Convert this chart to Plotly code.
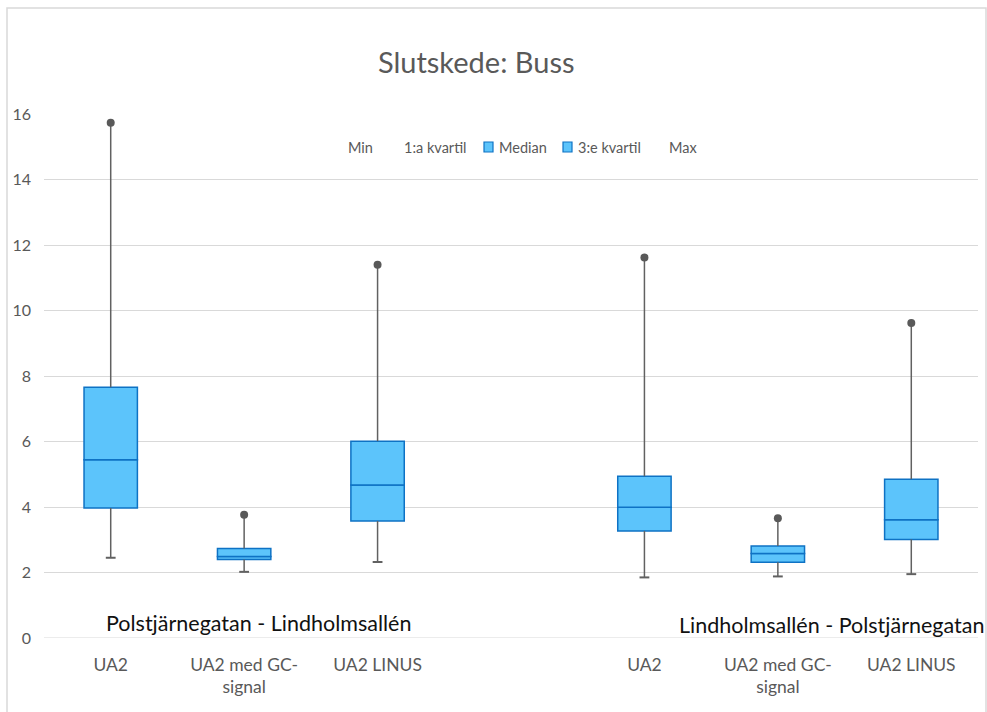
import plotly.graph_objects as go

# Category slots (the empty slot separates the two travel directions)
categories = ["UA2", "UA2 med GC-<br>signal", "UA2 LINUS", "", "UA2", "UA2 med GC-<br>signal", "UA2 LINUS"]
positions = [0, 1, 2, 4, 5, 6]

min_vals = [2.45, 2.02, 2.32, 1.85, 1.88, 1.95]
q1_vals = [3.97, 2.40, 3.57, 3.27, 2.31, 3.01]
median_vals = [5.44, 2.49, 4.67, 3.99, 2.58, 3.61]
q3_vals = [7.66, 2.73, 6.01, 4.94, 2.81, 4.85]
max_vals = [15.73, 3.76, 11.40, 11.62, 3.66, 9.62]

legend_names = ["Min", "1:a kvartil", "Median", "3:e kvartil", "Max"]
legend_has_swatch = [False, False, True, True, False]

box_fill = "#5CC4FB"
box_edge = "#0E72C4"
whisker_col = "#616161"
text_col = "#595959"
font_family = "Lato, 'Open Sans', sans-serif"
bar_w = 0.4

# plot area geometry (pixels) used to place paper-referenced decorations
L, R, T, B = 44, 978, 114, 638
def px(x):
    return (x - L) / (R - L)
def py(y):
    return (B - y) / (B - T)

fig = go.Figure()

# Lower box half: Q1 -> median
fig.add_trace(go.Bar(x=positions, y=[m - q for m, q in zip(median_vals, q1_vals)], base=q1_vals,
                     width=bar_w, name="Median", showlegend=False,
                     marker=dict(color=box_fill, line=dict(color=box_edge, width=1.5))))
# Upper box half: median -> Q3
fig.add_trace(go.Bar(x=positions, y=[q - m for q, m in zip(q3_vals, median_vals)], base=median_vals,
                     width=bar_w, name="3:e kvartil", showlegend=False,
                     marker=dict(color=box_fill, line=dict(color=box_edge, width=1.5))))

# Whiskers
wx, wy = [], []
for p, mn, q1, q3, mx in zip(positions, min_vals, q1_vals, q3_vals, max_vals):
    wx += [p, p, None, p, p, None]
    wy += [mn, q1, None, q3, mx, None]
fig.add_trace(go.Scatter(x=wx, y=wy, mode="lines", line=dict(color=whisker_col, width=1.5),
                         showlegend=False, hoverinfo="skip"))
# Min caps
fig.add_trace(go.Scatter(x=positions, y=min_vals, mode="markers", name="Min",
                         marker=dict(symbol="line-ew", size=7, line=dict(color=whisker_col, width=2)),
                         showlegend=False, hoverinfo="skip"))
# Max dots
fig.add_trace(go.Scatter(x=positions, y=max_vals, mode="markers", name="Max",
                         marker=dict(symbol="circle", size=8, color="#595959"),
                         showlegend=False, hoverinfo="skip"))

# Legend row: text start positions and swatch positions (pixels)
legend_text_x = [346, 402, 497, 576, 667]
legend_y = 147
shapes = [
    dict(type="line", xref="paper", yref="y", x0=0, x1=1, y0=0, y1=0,
         line=dict(color="#D9D9D9", width=1)),
    dict(type="rect", xref="paper", yref="paper",
         x0=px(7), x1=px(986), y0=py(730), y1=py(8),
         line=dict(color="#D9D9D9", width=1.5), fillcolor="rgba(0,0,0,0)", layer="below"),
]
annotations = [
    dict(text="Polstjärnegatan - Lindholmsallén", xref="paper", yref="paper",
         x=px(258), y=py(623), xanchor="center", yanchor="middle",
         showarrow=False, font=dict(family=font_family, size=21.5, color="#111111")),
    dict(text="Lindholmsallén - Polstjärnegatan", xref="paper", yref="paper",
         x=px(677), y=py(625), xanchor="left", yanchor="middle",
         showarrow=False, font=dict(family=font_family, size=21.5, color="#111111")),
]
for name, tx, sw in zip(legend_names, legend_text_x, legend_has_swatch):
    annotations.append(dict(text=name, xref="paper", yref="paper", x=px(tx), y=py(legend_y),
                            xanchor="left", yanchor="middle", showarrow=False,
                            font=dict(family=font_family, size=14.5, color=text_col)))
    if sw:
        shapes.append(dict(type="rect", xref="paper", yref="paper",
                           x0=px(tx - 13), x1=px(tx - 4), y0=py(legend_y + 5), y1=py(legend_y - 5),
                           fillcolor=box_fill, line=dict(color=box_edge, width=1.2)))

fig.update_layout(
    width=987, height=712,
    margin=dict(l=L, r=987 - R, t=T, b=712 - B),
    paper_bgcolor="white", plot_bgcolor="white",
    barmode="overlay",
    showlegend=False,
    title=dict(text="Slutskede: Buss", x=0.4825, xanchor="center", y=0.912, yanchor="middle",
               font=dict(family=font_family, size=29, color=text_col)),
    font=dict(family=font_family, color=text_col),
    xaxis=dict(range=[-0.5, 6.5], tickmode="array", tickvals=list(range(7)), ticktext=categories,
               showgrid=False, zeroline=False, showline=False, ticks="", ticklabelstandoff=14,
               tickfont=dict(size=17.5, color=text_col)),
    yaxis=dict(range=[0, 16], dtick=2, showgrid=True, gridcolor="#D9D9D9", gridwidth=1,
               zeroline=False, showline=False, ticks="", ticklabelstandoff=12,
               tickfont=dict(size=16, color=text_col)),
    shapes=shapes,
    annotations=annotations,
)

fig.write_html("out.html")
